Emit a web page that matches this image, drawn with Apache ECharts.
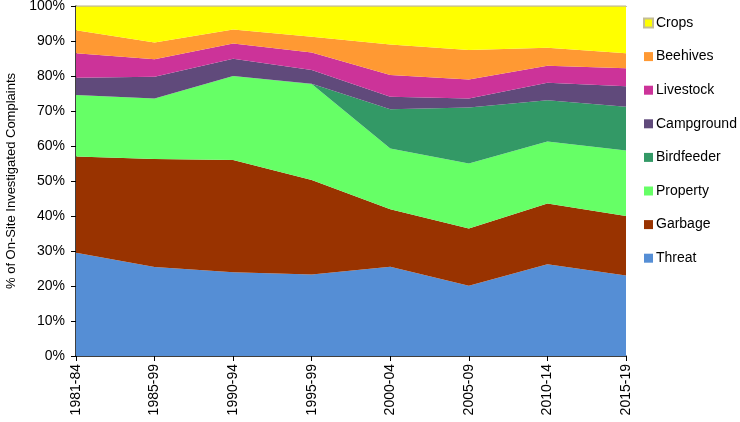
<!DOCTYPE html>
<html><head><meta charset="utf-8">
<script src="https://cdn.jsdelivr.net/npm/echarts@6/dist/echarts.min.js"></script>
<style>html,body{margin:0;padding:0;background:#fff}#c{width:740px;height:422px}</style>
</head><body><div id="c"></div>
<script>
var categories = ['1981-84','1985-99','1990-94','1995-99','2000-04','2005-09','2010-14','2015-19'];
var threat     = [29.5, 25.4, 23.9, 23.3, 25.5, 20.1, 26.2, 23.0];
var garbage    = [27.5, 30.9, 32.1, 27.0, 16.4, 16.3, 17.4, 17.0];
var property   = [17.6, 17.3, 24.0, 27.4, 17.4, 18.6, 17.7, 18.7];
var birdfeeder = [0, 0, 0, 0.1, 11.2, 16.0, 11.8, 12.5];
var campground = [4.9, 6.2, 4.9, 3.9, 3.6, 2.6, 5.0, 5.9];
var livestock  = [7.0, 5.0, 4.4, 5.0, 6.2, 5.4, 4.8, 5.1];
var beehives   = [6.6, 4.8, 4.0, 4.5, 8.7, 8.4, 5.2, 4.3];
var crops      = [6.9, 10.4, 6.7, 8.8, 11.0, 12.6, 11.9, 13.5];
var yTicks = [0,10,20,30,40,50,60,70,80,90,100];

var font = 'Liberation Sans, Arial, sans-serif';
function s(name, data, color, line) {
  return {
    name: name, type: 'line', stack: 'all', data: data, symbol: 'none',
    lineStyle: line ? {color: line, width: 1.5} : {width: 0},
    itemStyle: {color: color, borderColor: line || color, borderWidth: line ? 1 : 0},
    areaStyle: {color: color, opacity: 1}
  };
}
var chart = echarts.init(document.getElementById('c'));
chart.setOption({
  animation: false,
  grid: {left: 76, right: 114, top: 6, bottom: 66, containLabel: false, outerBoundsMode: 'none'},
  legend: {
    orient: 'vertical', left: 638, top: 11, itemGap: 19.6, itemWidth: 9, itemHeight: 9,
    icon: 'rect',
    textStyle: {fontFamily: font, fontSize: 14, color: '#000', padding: [0,0,0,-2]},
    data: ['Crops','Beehives','Livestock','Campground','Birdfeeder','Property','Garbage','Threat']
  },
  xAxis: [{
    type: 'category', data: categories, boundaryGap: false,
    axisLine: {lineStyle: {color: '#000', width: 1.5}},
    axisTick: {show: true, length: 5, lineStyle: {color: '#000'}},
    axisLabel: {rotate: 90, fontFamily: font, fontSize: 14, color: '#000', margin: 8}
  }, {
    type: 'category', data: categories, boundaryGap: false, position: 'top',
    axisLine: {lineStyle: {color: '#555', width: 1}},
    axisTick: {show: false}, axisLabel: {show: false}
  }],
  yAxis: {
    type: 'value', min: 0, max: 100, interval: 10,
    name: '% of On-Site Investigated Complaints', nameLocation: 'middle', nameGap: 57,
    nameTextStyle: {fontFamily: font, fontSize: 13, color: '#000'},
    axisLine: {show: true, lineStyle: {color: '#000', width: 1.5}},
    axisTick: {show: true, length: 5, lineStyle: {color: '#000'}},
    axisLabel: {fontFamily: font, fontSize: 14, color: '#000', margin: 11,
      formatter: function(v){ return yTicks.indexOf(v) >= 0 ? v + '%' : ''; }},
    splitLine: {show: false}
  },
  series: [
    s('Threat', threat, '#558ed5'),
    s('Garbage', garbage, '#993300'),
    s('Property', property, '#66ff66'),
    s('Birdfeeder', birdfeeder, '#339966'),
    s('Campground', campground, '#604a7b'),
    s('Livestock', livestock, '#cc3399'),
    s('Beehives', beehives, '#ff9933'),
    s('Crops', crops, '#ffff00', '#c4bd97')
  ]
});
</script></body></html>
